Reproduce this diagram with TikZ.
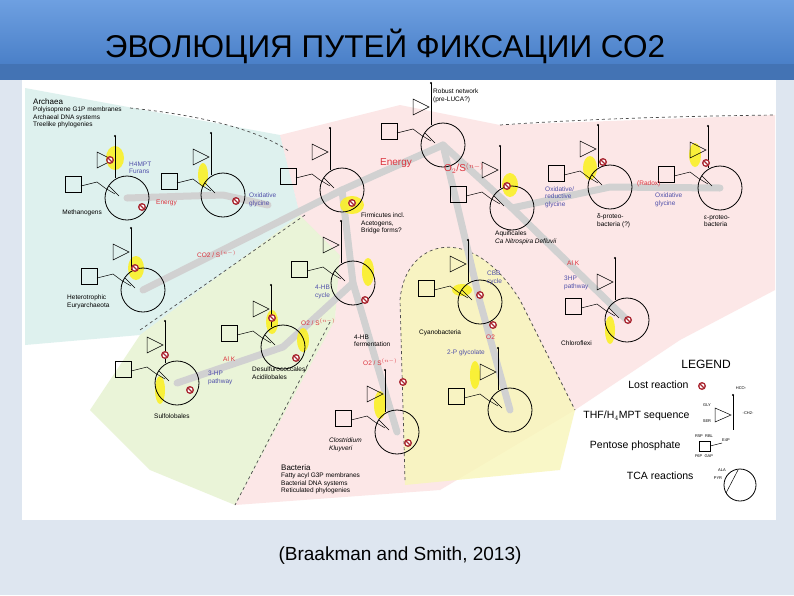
\documentclass[tikz,border=0pt]{standalone}
\usepackage{fontspec}
\setmainfont{Liberation Sans}
\usetikzlibrary{calc}
\definecolor{barblue}{RGB}{74,128,200}
\definecolor{bartop}{RGB}{110,160,225}
\definecolor{bottomband}{RGB}{222,230,240}
\definecolor{teal}{RGB}{200,232,228}
\definecolor{gre}{RGB}{226,240,200}
\definecolor{pnk}{RGB}{250,215,215}
\definecolor{yel}{RGB}{248,246,185}
\definecolor{lostc}{RGB}{170,40,50}
\definecolor{lblue}{RGB}{80,80,170}
\definecolor{lred}{RGB}{220,50,60}
\definecolor{hl}{RGB}{250,240,40}
\tikzset{
  sm/.style={font=\fontsize{6.5}{7.5}\selectfont,align=left,inner sep=1pt},
  bl/.style={sm,text=lblue},
  rd/.style={sm,text=lred},
  lg/.style={font=\fontsize{10.5}{12}\selectfont,anchor=east},
  tiny/.style={font=\fontsize{4}{5}\selectfont,inner sep=0.5pt},
  dsh/.style={dashed,line width=0.7pt,black!70},
  trunk/.style={line width=7pt,black!18,line cap=round,line join=round},
  hlt/.style={fill=hl,opacity=0.9},
  lostsym/.pic={\fill[lostc] (0,0) circle (4);\fill[white] (0,0) circle (2.4);\draw[lostc,line width=1.2pt] (-2.6,-2.6)--(2.6,2.6);},
  unit/.pic={
    \draw[line width=0.8pt] (0,0) circle (22);
    \draw[line width=0.5pt] (-62,-22) rectangle (-46,-6);
    \draw[line width=0.5pt] (-46,-12)--(-30,-16)--(-22,-10)--(-12,-4);
    \draw[line width=0.5pt] (-12,-20)--(-12,-62);
    \fill (-12,-62) circle (1.2);
    \draw[line width=0.5pt] (-30,-46)--(-14,-38)--(-30,-30)--cycle;
    \draw[line width=0.5pt] (-18,-12)--(-8,-2);
  }
}
\begin{document}
\begin{tikzpicture}[x=1pt,y=-1pt]
\useasboundingbox (0,0) rectangle (794,595);
\fill[bottomband] (0,0) rectangle (794,595);
\shade[top color=bartop,bottom color=barblue] (0,0) rectangle (794,64);
\fill[barblue!90!black] (0,64) rectangle (794,80);
\fill[white] (22,80) rectangle (776,520);
\node[font=\fontsize{31.5}{33}\selectfont] (title) at (385,46) {ЭВОЛЮЦИЯ ПУТЕЙ ФИКСАЦИИ СО2};
\node[font=\fontsize{19}{21}\selectfont] (cite) at (400,556) {(Braakman and Smith, 2013)};
% regions
\fill[teal,opacity=0.6] (25,88) -- (280,135) -- (300,215) -- (140,335) -- (25,345) -- cycle;
\fill[gre,opacity=0.7] (140,335) -- (300,215) -- (340,255) -- (335,320) -- (235,505) -- (150,470) -- (90,410) -- cycle;
\fill[pnk,opacity=0.6] (280,135) -- (400,105) -- (500,125) -- (775,115) -- (775,290) -- (680,340) -- (575,410) -- (440,490) -- (235,505) -- (335,320) -- (340,255) -- (300,215) -- cycle;
\fill[yel,opacity=0.8] (405,485) -- (400,300) .. controls (405,240) and (470,220) .. (520,300) -- (575,410) -- (560,470) -- cycle;
\draw[dsh] (130,108) .. controls (200,115) and (260,130) .. (290,152);
\draw[dsh] (500,125) .. controls (600,118) and (700,116) .. (775,115);
\draw[dsh] (305,215) -- (140,330);
\draw[dsh] (330,322) -- (235,505);
\draw[dsh] (405,480) -- (400,300) .. controls (405,240) and (470,220) .. (520,300) -- (575,410);
% trunks
\coordinate (cMet) at (127,198); \coordinate (cOxg) at (223,195);
\coordinate (cRob) at (443,145); \coordinate (cFir) at (342,190);
\coordinate (cHet) at (143,290); \coordinate (c4HB) at (353,283);
\coordinate (cAqu) at (512,208); \coordinate (cDel) at (610,187);
\coordinate (cEps) at (720,188); \coordinate (cCya) at (480,302);
\coordinate (cCy2) at (510,410); \coordinate (cChl) at (627,320);
\coordinate (cDes) at (283,347); \coordinate (cSul) at (177,383);
\coordinate (cClo) at (397,432);
\draw[trunk] (cMet) -- (cOxg) -- (268,205);
\draw[trunk] (cHet) -- (cFir) -- (cRob) -- (cAqu) -- (cDel) -- (cEps);
\draw[trunk] (cAqu) -- (cChl);
\draw[trunk] (cRob) -- (cCya) -- (cCy2);
\draw[trunk] (cFir) -- (c4HB) -- (cClo);
\draw[trunk] (c4HB) -- (cDes) -- (cSul);
% highlights
\fill[hlt] (115,158) ellipse (9 and 12);
\fill[hlt] (203,175) ellipse (5 and 12);
\fill[hlt] (352,205) ellipse (12 and 9);
\fill[hlt] (136,268) ellipse (8 and 12);
\fill[hlt] (368,272) ellipse (6 and 14);
\fill[hlt] (510,185) ellipse (8 and 12);
\fill[hlt] (590,168) ellipse (7 and 12);
\fill[hlt] (695,155) ellipse (6 and 12);
\fill[hlt] (462,290) ellipse (10 and 6);
\fill[hlt] (272,322) ellipse (6 and 12);
\fill[hlt] (303,340) ellipse (6 and 12);
\fill[hlt] (160,390) ellipse (5 and 14);
\fill[hlt] (380,405) ellipse (6 and 14);
\fill[hlt] (475,375) ellipse (5 and 14);
\fill[hlt] (610,330) ellipse (5 and 14);
% units
\foreach \c in {cMet,cOxg,cRob,cFir,cHet,c4HB,cAqu,cDel,cEps,cCya,cCy2,cChl,cDes,cSul,cClo}
  \pic at (\c) {unit};
% lost reactions
\foreach \p in {(110,160),(142,207),(236,201),(352,203),(135,268),(365,300),(507,186),(603,162),(706,163),
(480,295),(493,325),(628,320),(272,318),(296,358),(165,355),(190,390),(408,443),(403,382)}
  \pic at \p {lostsym};
% labels
\node[sm,anchor=north west] (arch) at (32,97) {\fontsize{8}{9}\selectfont Archaea\\\fontsize{6.5}{8}\selectfont Polyisoprene G1P membranes\\Archaeal DNA systems\\Treelike phylogenies};
\node[sm,anchor=north west] (bact) at (280,463) {\fontsize{8}{9}\selectfont Bacteria\\\fontsize{6.5}{8}\selectfont Fatty acyl G3P membranes\\Bacterial DNA systems\\Reticulated phylogenies};
\node[bl,anchor=west] (h4) at (128,168) {H4MPT\\Furans};
\node[sm,anchor=east] (met) at (103,213) {Methanogens};
\node[rd,anchor=west] (en1) at (155,203) {Energy};
\node[bl,anchor=west] (oxg) at (248,200) {Oxidative\\glycine};
\node[sm,anchor=west] (rob) at (432,96) {Robust network\\(pre-LUCA?)};
\node[rd,font=\fontsize{10}{11}\selectfont] (en2) at (396,163) {Energy};
\node[rd,font=\fontsize{10}{11}\selectfont,anchor=west] (o2a) at (443,168) {O$_2$/S$^{(n-)}$};
\node[sm,anchor=north west] (fir) at (360,212) {Firmicutes incl.\\Acetogens,\\Bridge forms?};
\node[rd,anchor=west] (co2) at (196,254) {CO2 / S$^{(n-)}$};
\node[sm,anchor=west] (het) at (66,302) {Heterotrophic\\Euryarchaeota};
\node[bl,anchor=west] (hb4) at (314,292) {4-HB\\cycle};
\node[rd,anchor=west] (o2b) at (300,322) {O2 / S$^{(n-)}$};
\node[bl,anchor=west] (oxr) at (544,197) {Oxidative/\\reductive\\glycine};
\node[rd,anchor=west] (rad) at (636,184) {(Radox)};
\node[bl,anchor=west] (oxg2) at (654,200) {Oxidative\\glycine};
\node[sm,anchor=west] (del) at (596,221) {δ-proteo-\\bacteria (?)};
\node[sm,anchor=west] (eps) at (703,221) {ε-proteo-\\bacteria};
\node[sm,anchor=west] (aqu) at (494,238) {Aquificales\\\textit{Ca Nitrospira Defluvii}};
\node[rd,anchor=west] (alk) at (566,263) {Al K};
\node[bl,anchor=west] (hp3) at (563,283) {3HP\\pathway};
\node[bl,anchor=west] (cbb) at (486,278) {CBB\\cycle};
\node[sm,anchor=west] (cya) at (418,333) {Cyanobacteria};
\node[rd,anchor=west] (o2c) at (485,337) {O2};
\node[bl,anchor=west] (gly) at (446,353) {2-P glycolate};
\node[sm,anchor=west] (chl) at (560,343) {Chloroflexi};
\node[sm,anchor=west] (hbf) at (353,341) {4-HB\\fermentation};
\node[rd,anchor=west] (o2d) at (362,362) {O2 / S$^{(n-)}$};
\node[sm,anchor=west] (des) at (251,373) {Desulfurococcales/\\Acidilobales};
\node[rd,anchor=west] (alk2) at (222,359) {Al K};
\node[bl,anchor=west] (hp3b) at (207,378) {3-HP\\pathway};
\node[sm,anchor=west] (sul) at (153,416) {Sulfolobales};
\node[sm,anchor=west,font=\fontsize{6.5}{7.5}\selectfont\itshape] (clo) at (328,445) {Clostridium\\Kluyveri};
% legend
\node[font=\fontsize{12}{13}\selectfont] (leg) at (706,364) {LEGEND};
\node[lg] (lr) at (692,385) {Lost reaction};
\pic at (702,386) {lostsym};
\node[lg] (thf) at (693,416) {THF/H$_4$MPT sequence};
\node[lg] (pp) at (684,446) {Pentose phosphate};
\node[lg] (tca) at (697,476) {TCA reactions};
\draw[line width=0.5pt] (733,395)--(733,430); \fill (733,395) circle (1.2);
\draw[line width=0.5pt] (715,408)--(731,415)--(715,422)--cycle;
\node[tiny] (hco) at (741,388) {HCO-};
\node[tiny] (gly2) at (707,405) {GLY};
\node[tiny] (ser) at (707,421) {SER};
\node[tiny] (ch2) at (748,413) {-CH2-};
\draw[line width=0.5pt] (699,441) rectangle (710,451);
\draw[line width=0.5pt] (710,446)--(722,443);
\node[tiny] (r5p) at (704,436) {R5P\ \ RBL};
\node[tiny] (f6p) at (704,456) {F6P\ \ GAP};
\node[tiny] (e4) at (726,440) {E4P};
\draw[line width=0.8pt] (740,485) circle (16);
\draw[line width=0.5pt] (726,493)--(738,470);
\node[tiny] (ala) at (722,470) {ALA};
\node[tiny] (pyr) at (718,478) {PYR};
\end{tikzpicture}
\end{document}
